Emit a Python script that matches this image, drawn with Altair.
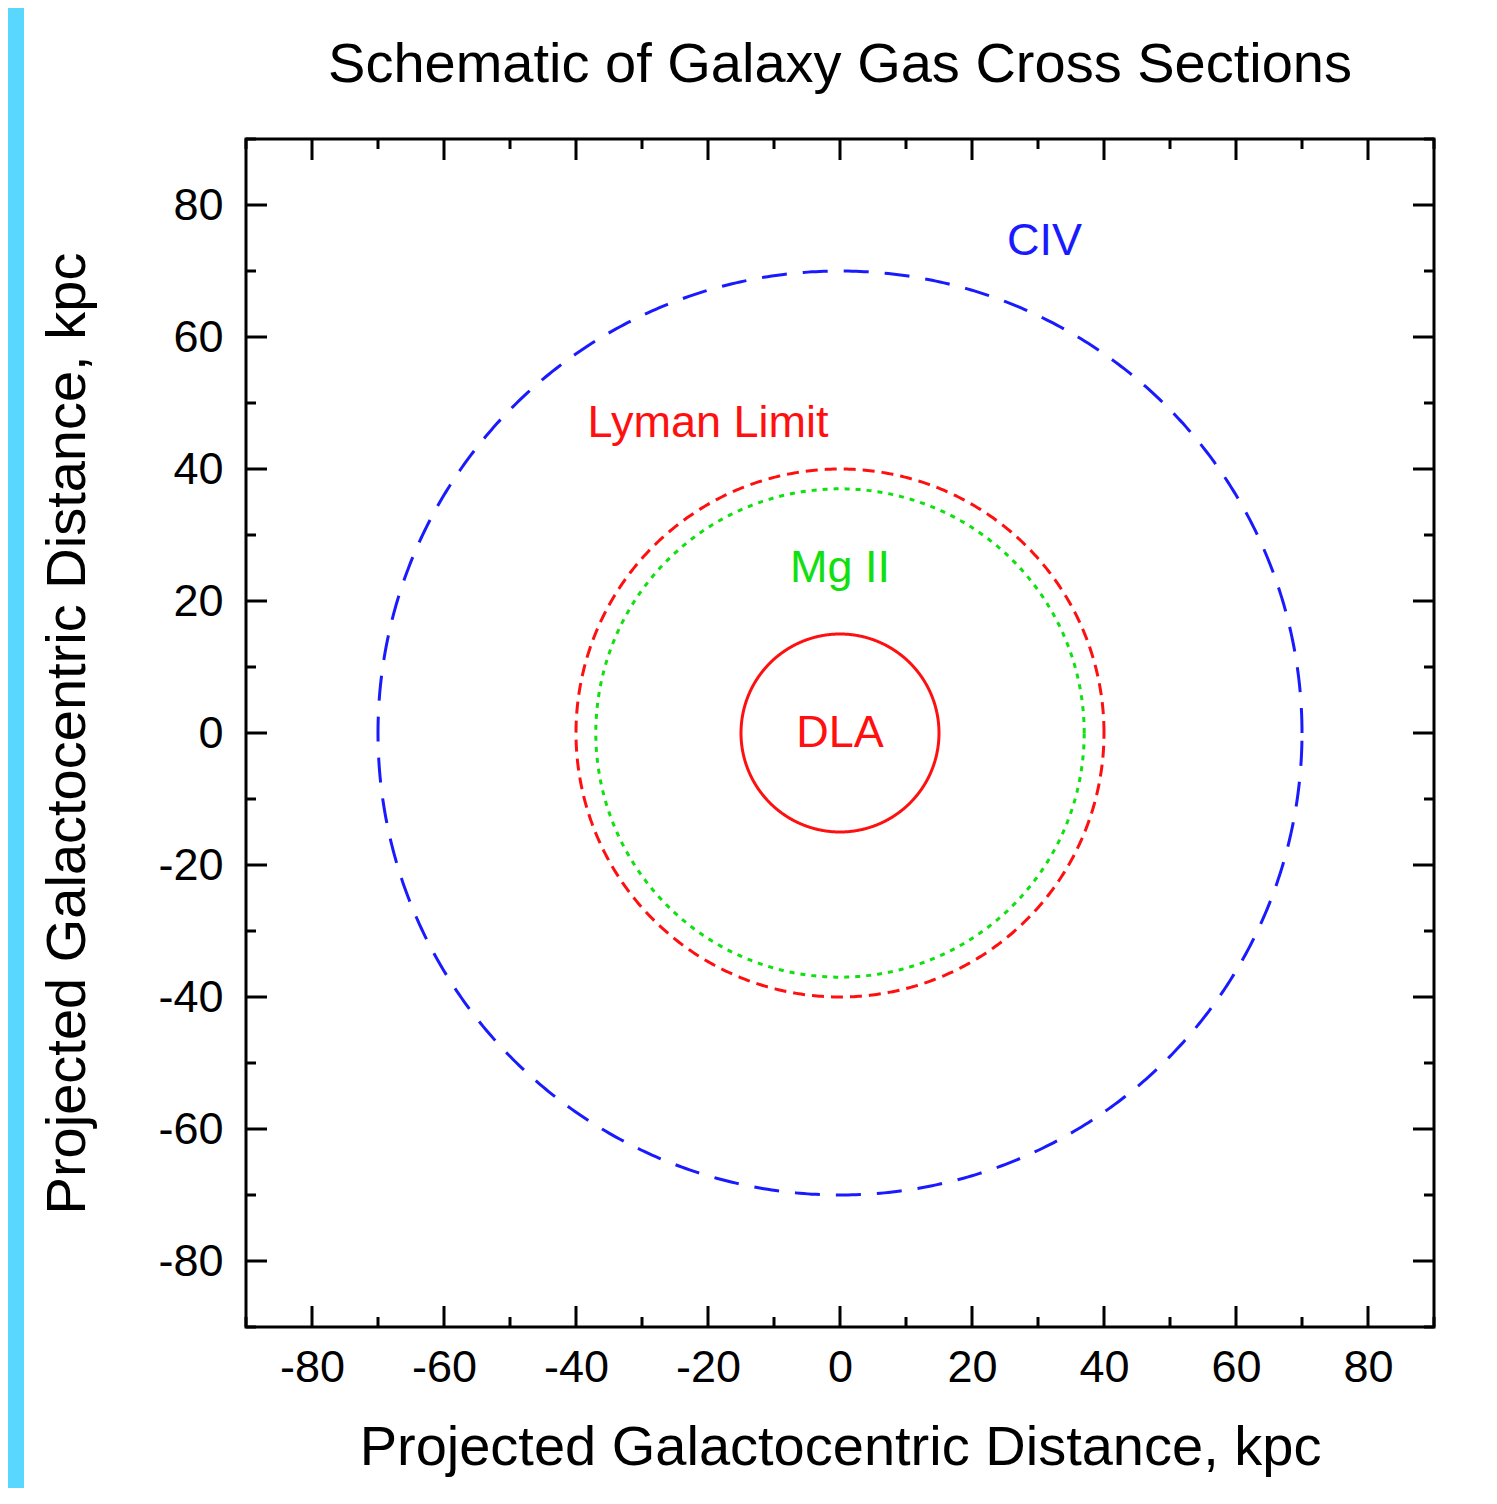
import altair as alt
import numpy as np
import pandas as pd

# ---- data ----
ring_names = ["CIV", "Lyman Limit", "Mg II", "DLA"]
ring_radii = [70, 40, 37, 15]            # kpc
ring_colors = ["#1a1aff", "#ff1010", "#10e010", "#ff1010"]
ring_dashes = [[25, 16], [12, 7], [5, 6], [1, 0]]

label_texts = ["CIV", "Lyman Limit", "Mg II", "DLA"]
label_x = [31, -20, 0, 0]
label_y = [74.5, 47, 25, 0]
label_colors = ["#1a1aff", "#ff1010", "#10e010", "#ff1010"]

tick_values = [-80, -60, -40, -20, 0, 20, 40, 60, 80]
minor_values = [-90, -70, -50, -30, -10, 10, 30, 50, 70, 90]

FONT = "Liberation Sans"
W = 1188
H = 1188
CYAN = "#5ad7ff"

# ---- build circle outlines from the radii ----
theta = np.linspace(0, 2 * np.pi, 721)
rows = []
for name, r in zip(ring_names, ring_radii):
    for i, t in enumerate(theta):
        rows.append({"name": name, "order": i, "x": r * np.cos(t), "y": r * np.sin(t)})
rings = pd.DataFrame(rows)

labels = pd.DataFrame({"text": label_texts, "x": label_x, "y": label_y, "c": label_colors})
major = pd.DataFrame({"v": tick_values})
minor = pd.DataFrame({"v": minor_values})

xscale = alt.Scale(domain=[-90, 90], nice=False, zero=False)
yscale = alt.Scale(domain=[-90, 90], nice=False, zero=False)

hyphen = "replace(datum.label, '\u2212', '-')"

xaxis = alt.Axis(values=tick_values, ticks=False, tickSize=0, domain=False, grid=False,
                 labelExpr=hyphen,
                 labelFont=FONT, labelFontSize=45, labelColor="black", labelPadding=18,
                 title="Projected Galactocentric Distance, kpc", titleFont=FONT,
                 titleFontSize=56, titleFontWeight="normal", titleColor="black",
                 titlePadding=30)
yaxis = alt.Axis(values=tick_values, ticks=False, tickSize=0, domain=False, grid=False,
                 labelExpr=hyphen,
                 labelFont=FONT, labelFontSize=45, labelColor="black", labelPadding=23,
                 title="Projected Galactocentric Distance, kpc", titleFont=FONT,
                 titleFontSize=56, titleFontWeight="normal", titleColor="black",
                 titlePadding=61)

circles = alt.Chart(rings).mark_line(strokeWidth=3, clip=True).encode(
    x=alt.X("x:Q", scale=xscale, axis=xaxis),
    y=alt.Y("y:Q", scale=yscale, axis=yaxis),
    detail="name:N",
    order="order:Q",
    color=alt.Color("name:N", scale=alt.Scale(domain=ring_names, range=ring_colors), legend=None),
    strokeDash=alt.StrokeDash("name:N", scale=alt.Scale(domain=ring_names, range=ring_dashes), legend=None),
)

texts = alt.Chart(labels).mark_text(font=FONT, fontSize=45, align="center", baseline="middle").encode(
    x=alt.X("x:Q", scale=xscale),
    y=alt.Y("y:Q", scale=yscale),
    text="text:N",
    color=alt.Color("c:N", scale=None),
)

tick_w = 3
def xticks(df, length, side):
    if side == "bottom":
        y0, y1 = H, H - length
    else:
        y0, y1 = 0, length
    return alt.Chart(df).mark_rule(color="black", strokeWidth=tick_w).encode(
        x=alt.X("v:Q", scale=xscale), y=alt.value(y0), y2=alt.value(y1))

def yticks(df, length, side):
    if side == "left":
        x0, x1 = 0, length
    else:
        x0, x1 = W, W - length
    return alt.Chart(df).mark_rule(color="black", strokeWidth=tick_w).encode(
        y=alt.Y("v:Q", scale=yscale), x=alt.value(x0), x2=alt.value(x1))

tick_layers = []
for side in ["bottom", "top"]:
    tick_layers.append(xticks(major, 21, side))
    tick_layers.append(xticks(minor, 10, side))
for side in ["left", "right"]:
    tick_layers.append(yticks(major, 21, side))
    tick_layers.append(yticks(minor, 10, side))

main = alt.layer(circles, texts, *tick_layers).properties(
    width=W, height=H,
    title=alt.TitleParams("Schematic of Galaxy Gas Cross Sections", font=FONT, fontSize=56,
                          fontWeight="normal", color="black", anchor="middle", frame="group",
                          offset=44),
    view=alt.ViewBackground(fill="white", stroke="black", strokeWidth=3),
)

# small blank spacer above the main panel (keeps the cyan strip starting at the top)
spacer = alt.Chart(pd.DataFrame({"a": [0]})).mark_rect(opacity=0).encode(
    color=alt.value("white")
).properties(width=W, height=1,
             view=alt.ViewBackground(fill="white", stroke="white", strokeWidth=0))

strip = alt.Chart(pd.DataFrame({"a": [0]})).mark_rect(color=CYAN).encode(
    color=alt.value(CYAN)
).properties(width=16, height=1480,
             view=alt.ViewBackground(fill=CYAN, stroke=CYAN, strokeWidth=0))

right = alt.vconcat(spacer, main, spacing=26)

chart = alt.hconcat(strip, right, spacing=14).properties(
    padding={"left": 0, "top": 0, "right": 0, "bottom": 0},
    background="white",
)

chart.save("out.html", embed_options={"renderer": "svg", "actions": False})
